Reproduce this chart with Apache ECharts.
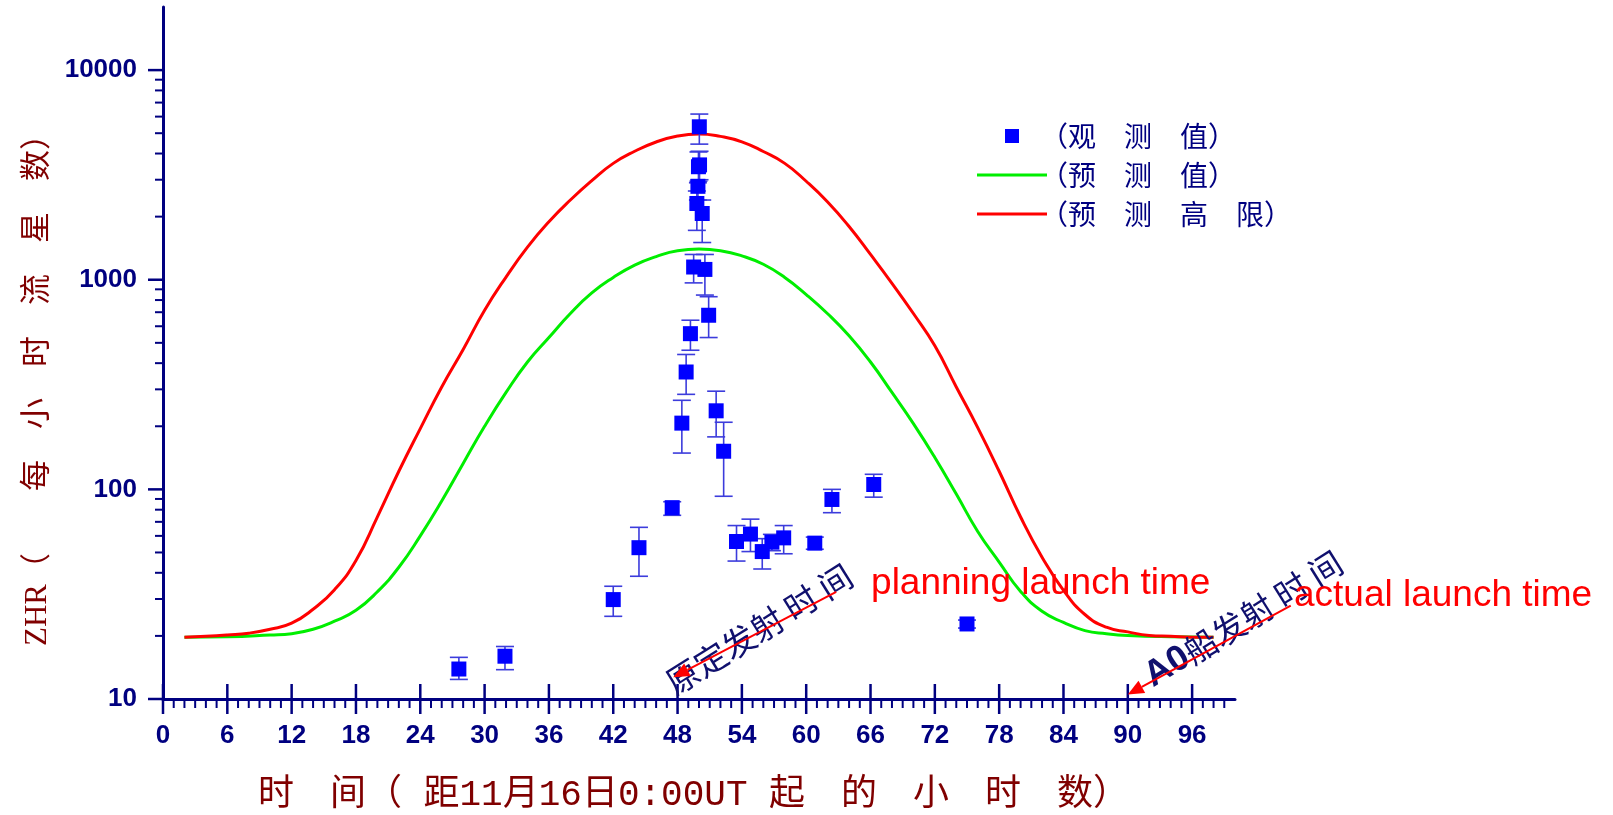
<!DOCTYPE html>
<html>
<head>
<meta charset="utf-8">
<script src="https://cdn.jsdelivr.net/npm/echarts@6/dist/echarts.min.js"></script>
<style>
  html, body { margin: 0; padding: 0; background: #fff; }
  #main { width: 1613px; height: 815px; }
</style>
</head>
<body>
<div id="main"></div>
<script>
// 观测值: 时间(小时), ZHR, 误差下限, 误差上限
var obsHour = [27.6, 31.9, 42.0, 44.4, 47.5, 48.4, 48.8, 49.2, 49.5, 49.8, 49.9, 49.95, 50.05, 50.03, 50.3, 50.55, 50.9, 51.6, 52.3, 53.5, 54.8, 55.9, 56.8, 57.9, 60.8, 62.4, 66.3, 75.0];
var obsZhr  = [13.9, 16.0, 29.8, 52.7, 81.8, 207, 363, 553, 1150, 2310, 2790, 3460, 3530, 5365, 2070, 1120, 677, 237, 152, 56.4, 61.2, 50.5, 56.0, 58.7, 55.4, 89.5, 105.5, 22.8];
var obsLow  = [12.4, 13.8, 24.8, 38.5, 75.2, 149, 284, 461, 966, 1720, 2400, 2950, 3000, 4435, 1505, 845, 530, 178, 92.7, 45.5, 50.5, 41.7, 51, 49.3, 51.8, 77.4, 91.8, 21.8];
var obsHigh = [15.8, 17.8, 34.5, 65.9, 87.3, 266, 440, 641, 1320, 2650, 2900, 4070, 4100, 6170, 2400, 1320, 830, 294, 209, 67.2, 72.1, 58.2, 61, 67.2, 59.2, 100, 118, 23.8];

// 预测值 (绿线)
var predHour = [2, 6, 10, 12, 14, 16, 18, 20, 22, 24, 26, 28, 30, 32, 34, 36, 38, 40, 42, 44, 46, 48, 50, 52, 54, 56, 58, 60, 62, 64, 66, 68, 70, 72, 74, 76, 78, 80, 82, 84, 86, 88, 90, 94, 98];
var predZhr  = [19.7, 19.8, 20.2, 20.5, 21.5, 23.5, 26.5, 32.5, 42.5, 60, 88, 133, 200, 290, 405, 530, 690, 865, 1025, 1175, 1290, 1375, 1400, 1375, 1300, 1185, 1025, 850, 688, 540, 405, 290, 206, 142, 95, 63, 45, 32.6, 26.2, 23.2, 21.2, 20.5, 20.1, 19.8, 19.7];

// 预测高限 (红线)
var highHour = [2, 4, 6, 8, 10, 12, 14, 16, 18, 20, 22, 24, 26, 28, 30, 32, 34, 36, 38, 40, 42, 44, 46, 48, 50, 52, 54, 56, 58, 60, 62, 64, 66, 68, 70, 72, 74, 76, 78, 80, 82, 84, 86, 88, 90, 92, 94, 96, 98];
var highZhr  = [19.7, 19.9, 20.2, 20.6, 21.5, 23.0, 26.8, 33.2, 45.8, 74, 122, 195, 308, 465, 715, 1030, 1430, 1890, 2400, 2970, 3590, 4100, 4540, 4850, 4960, 4830, 4550, 4090, 3590, 2950, 2350, 1795, 1320, 962, 690, 484, 308, 197, 122, 73.8, 47.5, 33.0, 25.3, 22.0, 20.9, 20.1, 19.9, 19.7, 19.7];

// 刻度
var xMajorTicks = [0, 6, 12, 18, 24, 30, 36, 42, 48, 54, 60, 66, 72, 78, 84, 90, 96];
var yMajorTicks = [10, 100, 1000, 10000];
var yMinorSteps = [2, 3, 4, 5, 6, 7, 8, 9];

var NAVY = '#000080';
var nameObs = '（观　测　值）', namePred = '（预　测　值）', nameHigh = '（预　测　高　限）';

var xTickData = [];
for (var h = 0; h <= 99; h++) {
    xTickData.push([h, 10, xMajorTicks.indexOf(h) >= 0 ? 1 : 0]);
}
var yTickData = [];
yMajorTicks.forEach(function (d) {
    yTickData.push([0, d, 1]);
    if (d < 10000) yMinorSteps.forEach(function (s) { yTickData.push([0, d * s, 0]); });
});

var chart = echarts.init(document.getElementById('main'));

var option = {
    animation: false,
    backgroundColor: '#fff',
    grid: { left: 163, right: 378, top: 7, bottom: 116, containLabel: false, outerBoundsMode: 'none' },
    legend: {
        orient: 'vertical',
        left: 972, top: 116,
        itemWidth: 70, itemHeight: 14, itemGap: 9,
        textStyle: { fontFamily: 'Noto Sans CJK SC', fontSize: 28, color: NAVY, lineHeight: 30, padding: [0, 0, 0, -12] },
        data: [
            { name: nameObs, icon: 'path://M0,0h10v10h-10z' },
            { name: namePred, icon: 'path://M0,0h70v3h-70z' },
            { name: nameHigh, icon: 'path://M0,0h70v3h-70z' }
        ]
    },
    xAxis: {
        type: 'value', min: 0, max: 100, interval: 6,
        name: '时　间（ 距11月16日0:00UT 起　的　小　时　数）',
        nameLocation: 'middle', nameGap: 78,
        nameTextStyle: { fontFamily: 'Liberation Mono, Noto Sans CJK SC', fontSize: 36, color: '#800000', padding: [0, 11, 0, 0] },
        axisLine: { lineStyle: { color: NAVY, width: 3 } },
        axisTick: { show: false },
        splitLine: { show: false },
        axisLabel: { color: NAVY, fontSize: 26, fontWeight: 'bold', fontFamily: 'Liberation Sans, Arial', margin: 24, showMaxLabel: false }
    },
    yAxis: {
        type: 'log', logBase: 10, min: 10, max: 20000,
        name: 'ZHR（　　每　小　时　流　星　数）',
        nameLocation: 'middle', nameGap: 105,
        nameTextStyle: { fontFamily: 'Liberation Serif, Noto Sans CJK SC', fontSize: 31, color: '#800000', padding: [0, 59, 0, 0] },
        axisLine: { show: true, lineStyle: { color: NAVY, width: 3 } },
        axisTick: { show: false },
        splitLine: { show: false },
        axisLabel: {
            color: NAVY, fontSize: 26, fontWeight: 'bold', fontFamily: 'Liberation Sans, Arial', margin: 26, showMaxLabel: false,
            formatter: function (v) { return String(Math.round(v)); }
        }
    },
    series: [
        {
            name: namePred, type: 'line', smooth: 0.5, symbol: 'none', z: 2,
            lineStyle: { color: '#00ee00', width: 3 }, itemStyle: { color: '#00ee00' },
            data: predHour.map(function (h, i) { return [h, predZhr[i]]; })
        },
        {
            name: nameHigh, type: 'line', smooth: 0.5, symbol: 'none', z: 2,
            lineStyle: { color: '#ff0000', width: 3 }, itemStyle: { color: '#ff0000' },
            data: highHour.map(function (h, i) { return [h, highZhr[i]]; })
        },
        {
            name: 'errorbar', type: 'custom', silent: true, z: 3,
            data: obsHour.map(function (h, i) { return [h, obsLow[i], obsHigh[i]]; }),
            encode: { x: 0, y: [1, 2] },
            renderItem: function (params, api) {
                var lo = api.coord([api.value(0), api.value(1)]);
                var hi = api.coord([api.value(0), api.value(2)]);
                var w = 9, st = { stroke: '#3c3cdc', lineWidth: 1.6 };
                return { type: 'group', children: [
                    { type: 'line', shape: { x1: lo[0], y1: lo[1], x2: hi[0], y2: hi[1] }, style: st },
                    { type: 'line', shape: { x1: lo[0] - w, y1: lo[1], x2: lo[0] + w, y2: lo[1] }, style: st },
                    { type: 'line', shape: { x1: hi[0] - w, y1: hi[1], x2: hi[0] + w, y2: hi[1] }, style: st }
                ] };
            }
        },
        {
            name: nameObs, type: 'scatter', symbol: 'rect', symbolSize: 15, z: 4,
            itemStyle: { color: '#0000ff', opacity: 1 },
            data: obsHour.map(function (h, i) { return [h, obsZhr[i]]; })
        },
        {
            name: 'xticks', type: 'custom', silent: true, clip: false, z: 5,
            data: xTickData, encode: { x: 0, y: 1 },
            renderItem: function (params, api) {
                var p = api.coord([api.value(0), api.value(1)]);
                var major = api.value(2) === 1;
                return { type: 'line',
                    shape: { x1: p[0], y1: major ? p[1] - 15 : p[1], x2: p[0], y2: major ? p[1] + 15 : p[1] + 9 },
                    style: { stroke: NAVY, lineWidth: major ? 2.5 : 2 } };
            }
        },
        {
            name: 'yticks', type: 'custom', silent: true, clip: false, z: 5,
            data: yTickData, encode: { x: 0, y: 1 },
            renderItem: function (params, api) {
                var p = api.coord([api.value(0), api.value(1)]);
                var major = api.value(2) === 1;
                return { type: 'line',
                    shape: { x1: p[0] - (major ? 15 : 8), y1: p[1], x2: p[0], y2: p[1] },
                    style: { stroke: NAVY, lineWidth: major ? 2.5 : 2 } };
            }
        }
    ]
};
chart.setOption(option);

// 注释: 箭头与文字
function px(h, v) { return chart.convertToPixel({ xAxisIndex: 0, yAxisIndex: 0 }, [h, v]); }
function arrow(from, to) {
    var a = px(from[0], from[1]), b = px(to[0], to[1]);
    var dx = b[0] - a[0], dy = b[1] - a[1], len = Math.sqrt(dx * dx + dy * dy);
    var ux = dx / len, uy = dy / len, L = 16, W = 7;
    var bx = b[0] - ux * L, by = b[1] - uy * L;
    return [
        { type: 'line', shape: { x1: a[0], y1: a[1], x2: bx, y2: by }, style: { stroke: '#ff0000', lineWidth: 2 }, z: 10 },
        { type: 'polygon', shape: { points: [[b[0], b[1]], [bx - uy * W, by + ux * W], [bx + uy * W, by - ux * W]] }, style: { fill: '#ff0000' }, z: 10 }
    ];
}
var t1 = px(55.6, 21.6), t2 = px(100.8, 24.0), r1 = px(66.05, 35.6), r2 = px(105.5, 31.2);
var graphics = [].concat(
    arrow([62.8, 32.4], [47.6, 12.7]),
    arrow([105.2, 27.9], [90.0, 10.5]),
    [
        { type: 'text', x: t1[0], y: t1[1], rotation: 32 * Math.PI / 180, z: 9,
          style: { text: '原定发射 时 间', fontFamily: 'Noto Sans CJK SC', fontSize: 33, fill: '#10106e', align: 'center', verticalAlign: 'middle' } },
        { type: 'text', x: t2[0], y: t2[1], rotation: 32 * Math.PI / 180, z: 9,
          style: { text: '{a|A0}{b|船发射 时 间}', align: 'center', verticalAlign: 'middle',
                   rich: { a: { fontFamily: 'Liberation Sans, Arial', fontWeight: 'bold', fontSize: 36, fill: '#10106e' },
                           b: { fontFamily: 'Noto Sans CJK SC', fontSize: 33, fill: '#10106e' } } } },
        { type: 'text', x: r1[0], y: r1[1], z: 9,
          style: { text: 'planning launch time', fontFamily: 'Liberation Sans, Arial', fontSize: 37, fill: '#ff0000', align: 'left', verticalAlign: 'middle' } },
        { type: 'text', x: r2[0], y: r2[1], z: 9,
          style: { text: 'actual launch time', fontFamily: 'Liberation Sans, Arial', fontSize: 37, fill: '#ff0000', align: 'left', verticalAlign: 'middle' } }
    ]
);
chart.setOption({ graphic: graphics });
</script>
</body>
</html>
